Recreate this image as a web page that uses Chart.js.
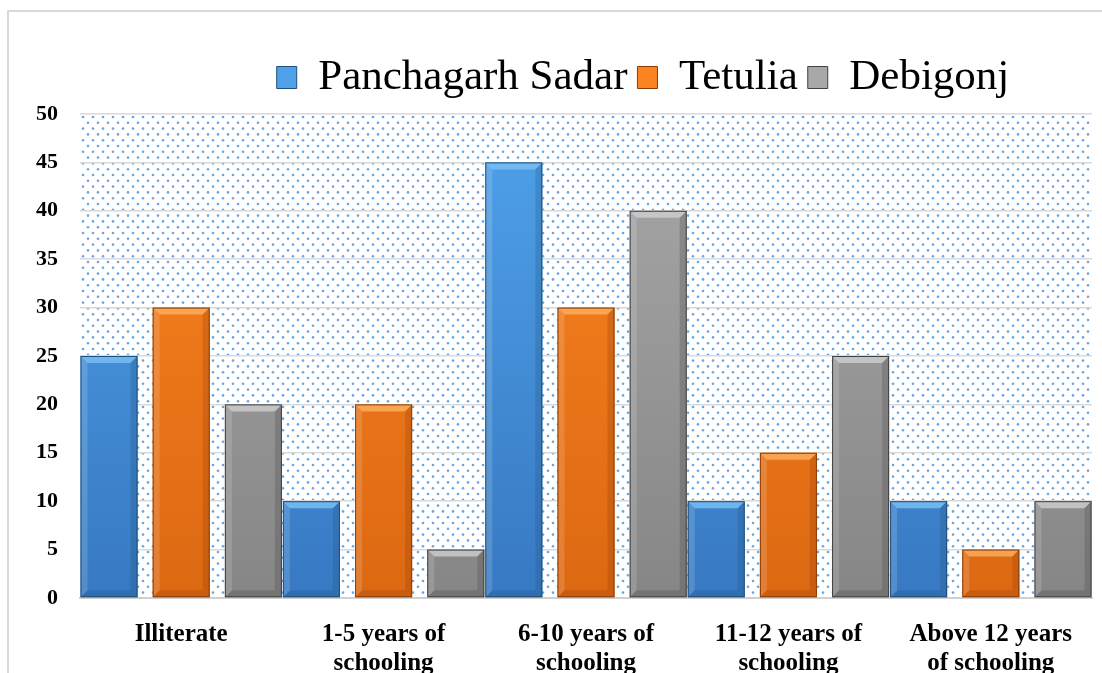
<!DOCTYPE html>
<html>
<head>
<meta charset="utf-8">
<script src="https://cdn.jsdelivr.net/npm/chart.js@4.4.0/dist/chart.umd.min.js"></script>
<style>
  body { margin: 0; background: #fff; }
  #wrap { position: relative; width: 1102px; height: 673px; overflow: hidden; }
  #frame { position: absolute; left: 7px; top: 10px; width: 1200px; height: 800px;
           border-left: 2px solid #d9d9d9; border-top: 2px solid #d9d9d9; }
  canvas { position: absolute; left: 0; top: 0; }
</style>
</head>
<body>
<div id="wrap">
  <div id="frame"></div>
  <canvas id="chart" width="1102" height="673"></canvas>
</div>
<script>
const categories = [
  'Illiterate',
  ['1-5 years of', 'schooling'],
  ['6-10 years of', 'schooling'],
  ['11-12 years of', 'schooling'],
  ['Above 12 years', 'of schooling']
];
const panchagarhSadar = [25, 10, 45, 10, 10];
const tetulia = [30, 20, 30, 15, 5];
const debigonj = [20, 5, 40, 25, 10];
const yTicks = [0, 5, 10, 15, 20, 25, 30, 35, 40, 45, 50];

const serif = '"Liberation Serif", "Times New Roman", serif';

// top colour, bottom colour, edge colour, bevel highlight
const palette = {
  blue: ['#4fa2ea', '#3779c2', '#1f4e79', '#7cc0f7'],
  orange: ['#fb8420', '#dc6812', '#8a3c06', '#fdb060'],
  gray: ['#a8a8a8', '#868686', '#404040', '#d0d0d0']
};

function barFill(colors) {
  return (ctx) => {
    const area = ctx.chart.chartArea;
    if (!area) return colors[0];
    const g = ctx.chart.ctx.createLinearGradient(0, area.top, 0, area.bottom);
    g.addColorStop(0, colors[0]);
    g.addColorStop(1, colors[1]);
    return g;
  };
}

const dottedBackground = {
  id: 'dottedBackground',
  beforeDraw(chart) {
    const {ctx, chartArea: a} = chart;
    ctx.save();
    ctx.fillStyle = '#ffffff';
    ctx.fillRect(a.left, a.top, a.width, a.height);
    ctx.fillStyle = 'rgba(80,150,215,0.85)';
    let row = 0;
    for (let y = a.top + 3; y < a.bottom; y += 5.8, row++) {
      const off = row % 2 ? 5 : 0;
      for (let x = a.left + 3 + off; x < a.right; x += 10) {
        ctx.beginPath();
        ctx.arc(x, y, 1.3, 0, Math.PI * 2);
        ctx.fill();
      }
    }
    ctx.restore();
  }
};

const bevel = {
  id: 'bevel',
  afterDatasetsDraw(chart) {
    const ctx = chart.ctx;
    const keys = ['blue', 'orange', 'gray'];
    chart.data.datasets.forEach((ds, i) => {
      const colors = palette[keys[i]];
      chart.getDatasetMeta(i).data.forEach((bar) => {
        const l = bar.x - bar.width / 2, r = bar.x + bar.width / 2;
        const t = bar.y, b = bar.base, s = 7;
        ctx.save();
        ctx.globalAlpha = 0.8;
        ctx.fillStyle = colors[3];
        ctx.beginPath();
        ctx.moveTo(l, t); ctx.lineTo(r, t); ctx.lineTo(r - s, t + s); ctx.lineTo(l + s, t + s);
        ctx.closePath(); ctx.fill();
        ctx.globalAlpha = 0.25;
        ctx.fillStyle = colors[2];
        ctx.beginPath();
        ctx.moveTo(r, t); ctx.lineTo(r, b); ctx.lineTo(r - s, b - s); ctx.lineTo(r - s, t + s);
        ctx.closePath(); ctx.fill();
        ctx.beginPath();
        ctx.moveTo(l, b); ctx.lineTo(r, b); ctx.lineTo(r - s, b - s); ctx.lineTo(l + s, b - s);
        ctx.closePath(); ctx.fill();
        ctx.globalAlpha = 0.15;
        ctx.fillStyle = '#ffffff';
        ctx.beginPath();
        ctx.moveTo(l, t); ctx.lineTo(l + s, t + s); ctx.lineTo(l + s, b - s); ctx.lineTo(l, b);
        ctx.closePath(); ctx.fill();
        ctx.globalAlpha = 1;
        ctx.strokeStyle = colors[2];
        ctx.lineWidth = 1;
        ctx.strokeRect(l + 0.5, t + 0.5, r - l - 1, b - t - 1);
        ctx.restore();
      });
    });
  }
};

const legendShift = {
  id: 'legendShift',
  afterLayout(chart) {
    chart.legend.left += 92;
    chart.legend.right += 92;
  }
};

function dataset(label, values, key) {
  return {
    label: label,
    data: values,
    backgroundColor: barFill(palette[key]),
    borderWidth: 0,
    categoryPercentage: 1.07,
    barPercentage: 0.79
  };
}

new Chart(document.getElementById('chart'), {
  type: 'bar',
  data: {
    labels: categories,
    datasets: [
      dataset('Panchagarh Sadar', panchagarhSadar, 'blue'),
      dataset('Tetulia', tetulia, 'orange'),
      dataset('Debigonj', debigonj, 'gray')
    ]
  },
  options: {
    responsive: false,
    animation: false,
    layout: { padding: { left: 10, right: 10, top: 46, bottom: 0 } },
    plugins: {
      tooltip: { enabled: false },
      // empty spacer between legend and plot area
      subtitle: {
        display: true,
        text: ' ',
        weight: 500,
        font: { size: 1, lineHeight: 1 },
        padding: { top: 0, bottom: 4 }
      },
      legend: {
        position: 'top',
        labels: {
          font: { family: serif, size: 43 },
          color: '#000',
          boxWidth: 20,
          boxHeight: 22,
          padding: 10,
          generateLabels(chart) {
            const keys = ['blue', 'orange', 'gray'];
            return chart.data.datasets.map((ds, i) => ({
              text: ds.label,
              fillStyle: palette[keys[i]][0],
              strokeStyle: palette[keys[i]][2],
              lineWidth: 1,
              datasetIndex: i
            }));
          }
        }
      }
    },
    scales: {
      x: {
        grid: { display: false },
        border: { display: true, color: '#d0d0d0', width: 2 },
        ticks: {
          color: '#000',
          font: { family: serif, size: 25, weight: 'bold', lineHeight: 1.16 },
          padding: 14,
          maxRotation: 0,
          autoSkip: false
        },
        afterFit(scale) { scale.height = 75; }
      },
      y: {
        min: 0,
        max: 50,
        afterBuildTicks(scale) { scale.ticks = yTicks.map(v => ({ value: v })); },
        grid: { color: '#d9d9d9', lineWidth: 1.5, drawTicks: false },
        border: { display: false },
        ticks: {
          color: '#000',
          font: { family: serif, size: 22, weight: 'bold' },
          padding: 22
        },
        afterFit(scale) { scale.width = 70; }
      }
    }
  },
  plugins: [dottedBackground, bevel, legendShift]
});
</script>
</body>
</html>
